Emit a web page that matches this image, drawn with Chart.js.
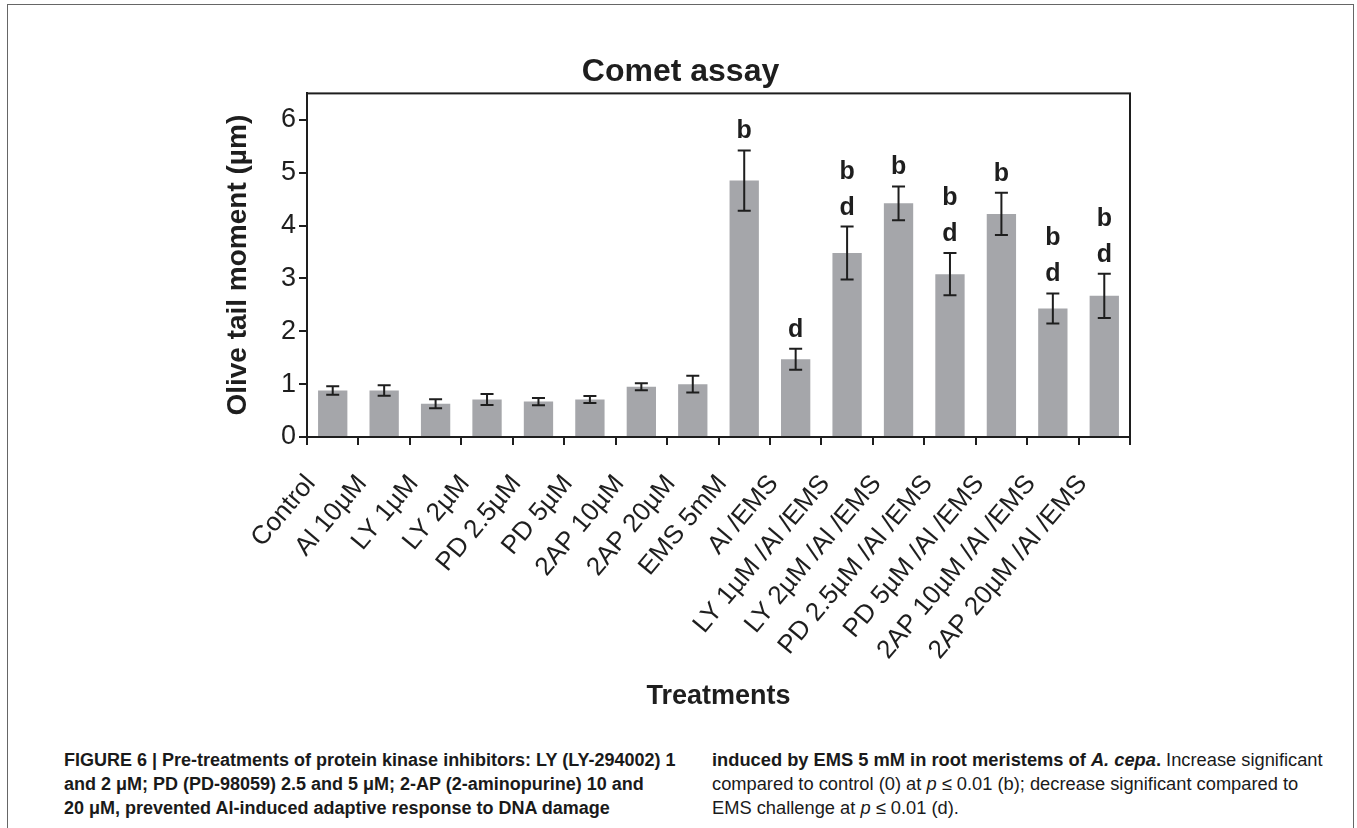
<!DOCTYPE html>
<html>
<head>
<meta charset="utf-8">
<title>Comet assay</title>
<script src="https://cdn.jsdelivr.net/npm/chart.js@4.4.1/dist/chart.umd.min.js"></script>
<style>
  html, body { margin: 0; padding: 0; background: #ffffff; }
  body { width: 1357px; height: 828px; position: relative; overflow: hidden; }
  #frame {
    position: absolute; left: 7px; top: 4px; width: 1347px; height: 900px;
    border: 1px solid #666666; box-sizing: border-box;
  }
  #chartBox { position: absolute; left: 8px; top: 5px; width: 1345px; height: 720px; }
  .caption {
    position: absolute; top: 748px; color: #1a1a1a;
    font-family: 'Liberation Sans', Arial, sans-serif;
    font-size: 18.3px; line-height: 24px;
  }
  .caption div { white-space: nowrap; }
  #capLeft { left: 64px; font-weight: bold; font-size: 18px; }
  #capRight { left: 712px; }
</style>
</head>
<body>
<div id="frame"></div>
<div id="chartBox"><canvas id="chart"></canvas></div>
<div class="caption" id="capLeft">
  <div>FIGURE 6 | Pre-treatments of protein kinase inhibitors: LY (LY-294002) 1</div>
  <div>and 2 μM; PD (PD-98059) 2.5 and 5 μM; 2-AP (2-aminopurine) 10 and</div>
  <div>20 μM, prevented Al-induced adaptive response to DNA damage</div>
</div>
<div class="caption" id="capRight">
  <div><b>induced by EMS 5 mM in root meristems of <i>A. cepa</i>.</b> Increase significant</div>
  <div>compared to control (0) at <i>p</i> ≤ 0.01 (b); decrease significant compared to</div>
  <div>EMS challenge at <i>p</i> ≤ 0.01 (d).</div>
</div>
<script>
// Treatments along the x axis
const categories = [
  'Control', 'Al 10µM', 'LY 1µM', 'LY 2µM', 'PD 2.5µM', 'PD 5µM',
  '2AP 10µM', '2AP 20µM', 'EMS 5mM', 'Al /EMS', 'LY 1µM /Al /EMS',
  'LY 2µM /Al /EMS', 'PD 2.5µM /Al /EMS', 'PD 5µM /Al /EMS',
  '2AP 10µM /Al /EMS', '2AP 20µM /Al /EMS'
];

// Mean olive tail moment (µm) per treatment
const tailMoment = [0.88, 0.88, 0.63, 0.71, 0.67, 0.71, 0.95, 1.00, 4.85, 1.47, 3.48, 4.42, 3.08, 4.22, 2.43, 2.67];

// Standard error of each mean
const tailError = [0.08, 0.10, 0.085, 0.105, 0.07, 0.065, 0.065, 0.16, 0.57, 0.20, 0.50, 0.32, 0.40, 0.40, 0.285, 0.42];

// Significance letters, listed top to bottom above each bar
const sigLetters = [[], [], [], [], [], [], [], [], ['b'], ['d'], ['b', 'd'], ['b'], ['b', 'd'], ['b'], ['b', 'd'], ['b', 'd']];

// Y axis tick values
const yTicks = [0, 1, 2, 3, 4, 5, 6];

const INK = '#1e1e1e';
const SANS = "'Liberation Sans', Arial, Helvetica, sans-serif";

// Frame around the plotting area
const plotFrame = {
  id: 'plotFrame',
  afterDraw(chart) {
    const { ctx, chartArea: a } = chart;
    ctx.save();
    ctx.strokeStyle = INK;
    ctx.lineWidth = 2;
    ctx.strokeRect(a.left, a.top, a.right - a.left, a.bottom - a.top);
    ctx.restore();
  }
};

// Error bars and significance letters
const errorBars = {
  id: 'errorBars',
  afterDatasetsDraw(chart) {
    const { ctx } = chart;
    const y = chart.scales.y;
    const meta = chart.getDatasetMeta(0);
    ctx.save();
    ctx.strokeStyle = INK;
    ctx.fillStyle = INK;
    ctx.lineWidth = 2;
    meta.data.forEach((bar, i) => {
      const v = tailMoment[i], e = tailError[i];
      const top = y.getPixelForValue(v + e);
      const bot = y.getPixelForValue(v - e);
      const cap = 6.5;
      ctx.beginPath();
      ctx.moveTo(bar.x, top); ctx.lineTo(bar.x, bot);
      ctx.moveTo(bar.x - cap, top); ctx.lineTo(bar.x + cap, top);
      ctx.moveTo(bar.x - cap, bot); ctx.lineTo(bar.x + cap, bot);
      ctx.stroke();

      const letters = sigLetters[i];
      ctx.font = 'bold 25px ' + SANS;
      ctx.textAlign = 'center';
      ctx.textBaseline = 'middle';
      const n = letters.length;
      letters.forEach((ch, k) => {
        const fromBottom = n - 1 - k;
        ctx.fillText(ch, bar.x, top - 19 - fromBottom * 36);
      });
    });
    ctx.restore();
  }
};

new Chart(document.getElementById('chart'), {
  type: 'bar',
  data: {
    labels: categories,
    datasets: [{
      data: tailMoment,
      backgroundColor: '#a5a6aa',
      borderWidth: 0,
      categoryPercentage: 1.0,
      barPercentage: 0.57
    }]
  },
  options: {
    responsive: true,
    maintainAspectRatio: false,
    animation: false,
    layout: { padding: { left: 0, right: 0, top: 0, bottom: 12 } },
    plugins: {
      legend: { display: false },
      tooltip: { enabled: false },
      title: {
        display: true,
        text: 'Comet assay',
        color: INK,
        font: { family: SANS, size: 32, weight: 'bold' },
        padding: { top: 48, bottom: 2 }
      }
    },
    scales: {
      x: {
        offset: true,
        grid: { display: true, drawOnChartArea: false, drawTicks: true, tickLength: 8, color: INK, lineWidth: 2, offset: true },
        border: { display: true, color: INK, width: 2 },
        ticks: {
          autoSkip: false, minRotation: 50, maxRotation: 50,
          color: INK, font: { family: SANS, size: 26 }, padding: 24, labelOffset: -22
        },
        title: {
          display: true, text: 'Treatments', color: INK,
          font: { family: SANS, size: 27, weight: 'bold' },
          padding: { top: 0, bottom: 0 }
        },
        afterFit(scale) { scale.height = 276; }
      },
      y: {
        min: 0, max: 6.5,
        afterBuildTicks(scale) { scale.ticks = yTicks.map(v => ({ value: v })); },
        grid: { display: true, drawOnChartArea: false, drawTicks: true, tickLength: 8, color: INK, lineWidth: 2 },
        border: { display: true, color: INK, width: 2 },
        ticks: { color: INK, font: { family: SANS, size: 27 }, padding: 3 },
        title: {
          display: true, text: 'Olive tail moment (µm)', color: INK,
          font: { family: SANS, size: 28, weight: 'bold' },
          padding: { top: 213, bottom: 0 }
        },
        afterFit(scale) { scale.width = 299; }
      },
      // empty margin on the right so the chart title spans the full width
      margin: {
        type: 'linear', position: 'right', display: true,
        grid: { display: false }, border: { display: false },
        ticks: { display: false }, title: { display: false },
        afterFit(scale) { scale.width = 223; }
      }
    }
  },
  plugins: [plotFrame, errorBars]
});
</script>
</body>
</html>
